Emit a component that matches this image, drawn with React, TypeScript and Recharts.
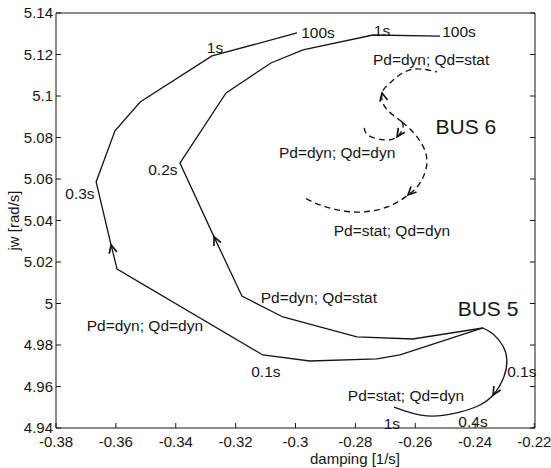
import React from "react";
import { LineChart, Line, XAxis, YAxis, ReferenceDot } from "recharts";

document.body.style.margin = "0";

const INK = "#161616";
const FONT = "'Liberation Sans', Arial, Helvetica, sans-serif";

// axis ticks
const xTicks = [-0.38, -0.36, -0.34, -0.32, -0.3, -0.28, -0.26, -0.24, -0.22];
const xTickLabels = ["-0.38", "-0.36", "-0.34", "-0.32", "-0.3", "-0.28", "-0.26", "-0.24", "-0.22"];
const yTicks = [4.94, 4.96, 4.98, 5, 5.02, 5.04, 5.06, 5.08, 5.1, 5.12, 5.14];
const yTickLabels = ["4.94", "4.96", "4.98", "5", "5.02", "5.04", "5.06", "5.08", "5.1", "5.12", "5.14"];

// BUS 5 trajectories (start at the common tip)
const bus5DynDyn = [
  { x: -0.2374, y: 4.9882 },
  { x: -0.2651, y: 4.9752 },
  { x: -0.2728, y: 4.9733 },
  { x: -0.2952, y: 4.9723 },
  { x: -0.3109, y: 4.9752 },
  { x: -0.3596, y: 5.0166 },
  { x: -0.3616, y: 5.0282 },
  { x: -0.3666, y: 5.0586 },
  { x: -0.3603, y: 5.0832 },
  { x: -0.3519, y: 5.0971 },
  { x: -0.3279, y: 5.1193 },
  { x: -0.2995, y: 5.1304 },
];
const bus5DynStat = [
  { x: -0.2374, y: 4.9882 },
  { x: -0.2608, y: 4.9829 },
  { x: -0.2795, y: 4.9839 },
  { x: -0.3042, y: 4.9935 },
  { x: -0.3179, y: 5.0036 },
  { x: -0.3272, y: 5.0321 },
  { x: -0.3386, y: 5.0677 },
  { x: -0.3232, y: 5.1015 },
  { x: -0.3082, y: 5.1159 },
  { x: -0.2975, y: 5.1222 },
  { x: -0.2741, y: 5.1294 },
  { x: -0.2517, y: 5.1289 },
];
const bus5StatDyn = [
  { x: -0.2374, y: 4.9882 },
  { x: -0.234, y: 4.9853 },
  { x: -0.2307, y: 4.9795 },
  { x: -0.2294, y: 4.9728 },
  { x: -0.2304, y: 4.9646 },
  { x: -0.234, y: 4.9559 },
  { x: -0.2384, y: 4.9511 },
  { x: -0.2451, y: 4.9477 },
  { x: -0.2561, y: 4.9458 },
  { x: -0.2671, y: 4.9501 },
];

// BUS 6 trajectories (dashed)
const bus6DynStat = [
  { x: -0.2644, y: 5.0875 },
  { x: -0.2701, y: 5.0947 },
  { x: -0.2711, y: 5.1015 },
  { x: -0.2684, y: 5.1063 },
  { x: -0.2618, y: 5.1126 },
  { x: -0.2527, y: 5.1116 },
];
const bus6StatDyn = [
  { x: -0.2644, y: 5.0875 },
  { x: -0.2594, y: 5.0803 },
  { x: -0.2561, y: 5.0692 },
  { x: -0.2584, y: 5.0581 },
  { x: -0.2624, y: 5.0523 },
  { x: -0.2694, y: 5.0465 },
  { x: -0.2808, y: 5.0441 },
  { x: -0.2918, y: 5.0475 },
  { x: -0.2968, y: 5.0509 },
];
const bus6DynDyn = [
  { x: -0.2644, y: 5.0875 },
  { x: -0.2641, y: 5.0846 },
  { x: -0.2661, y: 5.0803 },
  { x: -0.2701, y: 5.0788 },
  { x: -0.2758, y: 5.0812 },
  { x: -0.2771, y: 5.0865 },
];

// text annotations
const notes = [
  { text: "1s", x: -0.3269, y: 5.1236 },
  { text: "100s", x: -0.2925, y: 5.1304 },
  { text: "1s", x: -0.2711, y: 5.1318 },
  { text: "100s", x: -0.2454, y: 5.1309 },
  { text: "Pd=dyn; Qd=stat", x: -0.2547, y: 5.1174 },
  { text: "Pd=dyn; Qd=dyn", x: -0.2861, y: 5.073 },
  { text: "Pd=stat; Qd=dyn", x: -0.2678, y: 5.0354 },
  { text: "0.2s", x: -0.3443, y: 5.0644 },
  { text: "0.3s", x: -0.372, y: 5.0528 },
  { text: "Pd=dyn; Qd=dyn", x: -0.3503, y: 4.9896 },
  { text: "Pd=dyn; Qd=stat", x: -0.2922, y: 5.0031 },
  { text: "0.1s", x: -0.3099, y: 4.967 },
  { text: "0.1s", x: -0.2244, y: 4.967 },
  { text: "Pd=stat; Qd=dyn", x: -0.2631, y: 4.9559 },
  { text: "1s", x: -0.2678, y: 4.9424 },
  { text: "0.4s", x: -0.2407, y: 4.9429 },
];
const busNames = [
  { text: "BUS 6", x: -0.2431, y: 5.0851 },
  { text: "BUS 5", x: -0.2357, y: 4.9978 },
];

function arrowDot(at: number) {
  return (props: any) => {
    const { cx, cy, index, points } = props;
    if (index !== at || !points || index < 1) return <g key={`d-${index}`} />;
    const p = points[index - 1];
    const dx = cx - p.x;
    const dy = cy - p.y;
    const len = Math.hypot(dx, dy) || 1;
    const ux = dx / len;
    const uy = dy / len;
    const L = 9;
    const a = 0.45;
    const wing = (s: number) => {
      const c = Math.cos(s * a);
      const sn = Math.sin(s * a);
      const rx = ux * c - uy * sn;
      const ry = ux * sn + uy * c;
      return `${cx - L * rx},${cy - L * ry}`;
    };
    return (
      <path
        key={`d-${index}`}
        d={`M${wing(1)} L${cx},${cy} L${wing(-1)}`}
        fill="none"
        stroke={INK}
        strokeWidth={1.7}
      />
    );
  };
}

const BottomTick = (props: any) => {
  const { x, y, index } = props;
  return (
    <g>
      <line x1={x} y1={y} x2={x} y2={y - 5} stroke={INK} />
      <text x={x} y={y + 19} textAnchor="middle" fontSize={15} fill={INK} fontFamily={FONT}>
        {xTickLabels[index]}
      </text>
    </g>
  );
};
const TopTick = (props: any) => {
  const { x, y } = props;
  return <line x1={x} y1={y} x2={x} y2={y + 5} stroke={INK} />;
};
const LeftTick = (props: any) => {
  const { x, y, index } = props;
  return (
    <g>
      <line x1={x} y1={y} x2={x + 5} y2={y} stroke={INK} />
      <text x={x - 3} y={y + 5} textAnchor="end" fontSize={15} fill={INK} fontFamily={FONT}>
        {yTickLabels[index]}
      </text>
    </g>
  );
};
const RightTick = (props: any) => {
  const { x, y } = props;
  return <line x1={x} y1={y} x2={x - 5} y2={y} stroke={INK} />;
};

const noteShape = (text: string, size: number) => (p: any) => (
  <text
    x={p.cx}
    y={p.cy}
    textAnchor="middle"
    dominantBaseline="central"
    fontSize={size}
    fill={INK}
    fontFamily={FONT}
  >
    {text}
  </text>
);

export default function App() {
  return (
    <div style={{ width: 551, height: 468, background: "#fff" }}>
      <LineChart width={551} height={468} margin={{ top: 12, right: 15, bottom: 0, left: 0 }}>
        <XAxis
          dataKey="x"
          type="number"
          domain={[-0.38, -0.22]}
          ticks={xTicks}
          allowDataOverflow
          height={40}
          tickLine={false}
          tickSize={0}
          tickMargin={0}
          tick={<BottomTick />}
          stroke={INK}
          label={{
            content: () => (
              <text x={355} y={464} textAnchor="middle" fontSize={15} fill={INK} fontFamily={FONT}>
                damping [1/s]
              </text>
            ),
          }}
        />
        <XAxis
          xAxisId="top"
          orientation="top"
          type="number"
          domain={[-0.38, -0.22]}
          ticks={xTicks}
          allowDataOverflow
          height={1}
          tickLine={false}
          tickSize={0}
          tickMargin={0}
          tick={<TopTick />}
          stroke={INK}
        />
        <YAxis
          type="number"
          domain={[4.94, 5.14]}
          ticks={yTicks}
          allowDataOverflow
          width={56}
          tickLine={false}
          tickSize={0}
          tickMargin={0}
          tick={<LeftTick />}
          stroke={INK}
          label={{
            content: (p: any) => {
              const vb = p.viewBox || { y: 13, height: 415 };
              const cy = vb.y + vb.height / 2;
              return (
                <text
                  x={13}
                  y={cy}
                  transform={`rotate(-90 13 ${cy})`}
                  textAnchor="middle"
                  dominantBaseline="central"
                  fontSize={15}
                  fill={INK}
                  fontFamily={FONT}
                >
                  jw [rad/s]
                </text>
              );
            },
          }}
        />
        <YAxis
          yAxisId="right"
          orientation="right"
          type="number"
          domain={[4.94, 5.14]}
          ticks={yTicks}
          allowDataOverflow
          width={1}
          tickLine={false}
          tickSize={0}
          tickMargin={0}
          tick={<RightTick />}
          stroke={INK}
        />

        <Line data={bus5DynDyn} dataKey="y" type="linear" stroke={INK} strokeWidth={1.3} dot={arrowDot(6)} isAnimationActive={false} />
        <Line data={bus5DynStat} dataKey="y" type="linear" stroke={INK} strokeWidth={1.3} dot={arrowDot(5)} isAnimationActive={false} />
        <Line data={bus5StatDyn} dataKey="y" type="natural" stroke={INK} strokeWidth={1.3} dot={arrowDot(5)} isAnimationActive={false} />
        <Line data={bus6DynStat} dataKey="y" type="natural" stroke={INK} strokeWidth={1.4} strokeDasharray="6 4" dot={arrowDot(2)} isAnimationActive={false} />
        <Line data={bus6StatDyn} dataKey="y" type="natural" stroke={INK} strokeWidth={1.4} strokeDasharray="6 4" dot={arrowDot(4)} isAnimationActive={false} />
        <Line data={bus6DynDyn} dataKey="y" type="natural" stroke={INK} strokeWidth={1.4} strokeDasharray="6 4" dot={arrowDot(2)} isAnimationActive={false} />

        {notes.map((n, i) => (
          <ReferenceDot key={`n-${i}`} x={n.x} y={n.y} r={1} shape={noteShape(n.text, 15.5)} />
        ))}
        {busNames.map((n, i) => (
          <ReferenceDot key={`b-${i}`} x={n.x} y={n.y} r={1} shape={noteShape(n.text, 21)} />
        ))}
      </LineChart>
    </div>
  );
}
